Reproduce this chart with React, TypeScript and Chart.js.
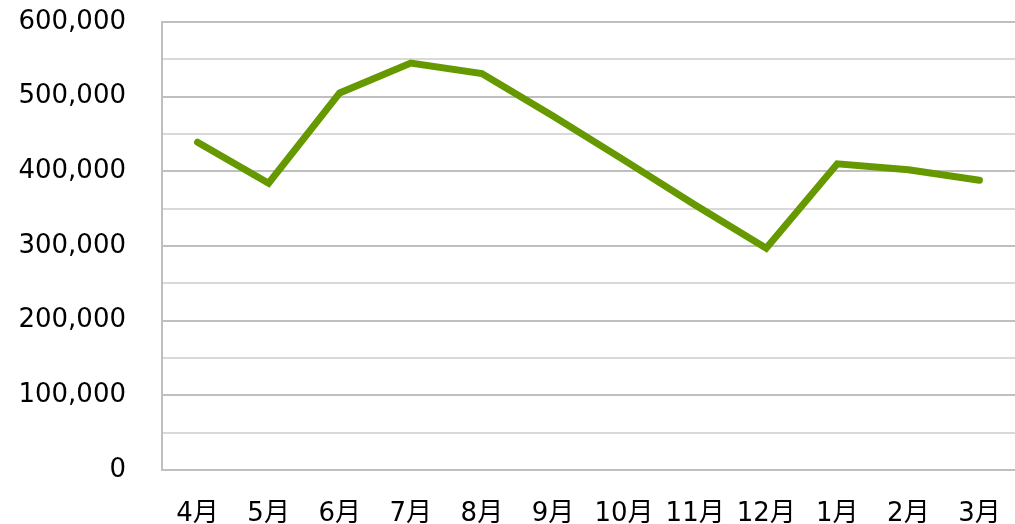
import React, { useEffect, useRef } from "react";
import { Chart, registerables } from "chart.js";

Chart.register(...registerables);

const months = ["4月", "5月", "6月", "7月", "8月", "9月", "10月", "11月", "12月", "1月", "2月", "3月"];
const sales = [439000, 384000, 505000, 545000, 531000, 474000, 415000, 355000, 297000, 410000, 402000, 388000];
const yTicks = [0, 100000, 200000, 300000, 400000, 500000, 600000];

export default function App() {
  const ref = useRef<HTMLCanvasElement | null>(null);
  useEffect(() => {
    document.body.style.margin = "0";
    const ctx = ref.current!;
    const chart = new Chart(ctx, {
      type: "line",
      data: {
        labels: months,
        datasets: [
          {
            data: sales,
            borderColor: "#669900",
            borderWidth: 7,
            borderCapStyle: "round",
            borderJoinStyle: "miter",
            pointRadius: 0,
            tension: 0,
            fill: false,
          },
        ],
      },
      options: {
        animation: false,
        responsive: false,
        maintainAspectRatio: false,
        layout: { padding: { top: 22, right: 0, left: 0, bottom: 0 } },
        plugins: { legend: { display: false }, tooltip: { enabled: false } },
        scales: {
          x: {
            offset: true,
            grid: { display: false, drawTicks: false },
            border: { display: false },
            ticks: {
              color: "#000",
              font: { family: "'DejaVu Sans', 'Noto Sans CJK JP'", size: 26 },
              padding: 29,
              maxRotation: 0,
              autoSkip: false,
            },
            afterFit: (s: any) => {
              s.height = 54;
              s.paddingLeft = 0;
              s.paddingRight = 0;
            },
          },
          y: {
            min: 0,
            max: 600000,
            grid: {
              color: (c: any) => (c.tick && c.tick.value % 100000 === 0 ? "#bfbfbf" : "#d9d9d9"),
              lineWidth: 2,
              drawTicks: false,
            },
            border: { display: true, color: "#bfbfbf", width: 2 },
            ticks: {
              stepSize: 50000,
              color: "#000",
              padding: 36,
              font: { family: "'DejaVu Sans'", size: 26 },
              callback: (v: any) => (yTicks.includes(Number(v)) ? Number(v).toLocaleString("en-US") : ""),
            },
            afterFit: (s: any) => {
              s.width = 162;
              s.paddingTop = 0;
              s.paddingBottom = 0;
            },
          },
        },
      },
    });
    return () => chart.destroy();
  }, []);
  return <canvas ref={ref} width={1015} height={524} style={{ display: "block" }} />;
}
